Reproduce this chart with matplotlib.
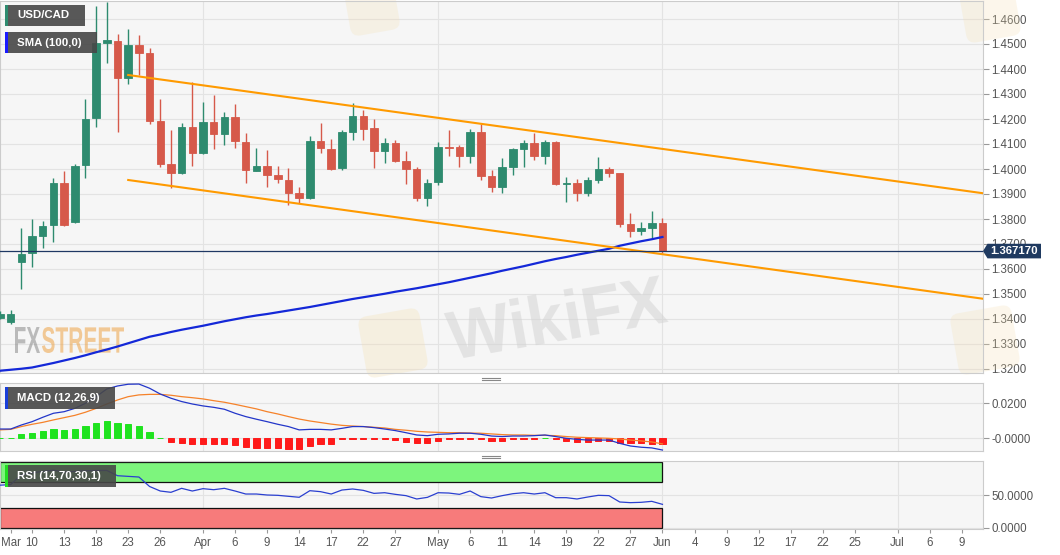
import numpy as np
import pandas as pd
import matplotlib
matplotlib.use("Agg")
import matplotlib.pyplot as plt
from matplotlib.patches import Rectangle, Polygon, PathPatch, FancyBboxPatch
from matplotlib.lines import Line2D
from matplotlib.textpath import TextPath
from matplotlib.font_manager import FontProperties
from matplotlib.transforms import Affine2D, blended_transform_factory

# USD/CAD daily candles, weekdays 5 Mar - 1 Jun 2020
dates = pd.bdate_range("2020-03-05", "2020-06-01")
opens = [1.3404, 1.3387, 1.3627, 1.3665, 1.3732, 1.3776, 1.3945, 1.3789, 1.4017, 1.4204,
         1.4505, 1.4513, 1.4364, 1.4495, 1.4465, 1.4192, 1.4020, 1.3985, 1.4167, 1.4065,
         1.4187, 1.4140, 1.4209, 1.4109, 1.3993, 1.4013, 1.3977, 1.3956, 1.3903, 1.3883,
         1.4113, 1.4080, 1.4003, 1.4149, 1.4212, 1.4163, 1.4073, 1.4103, 1.4033, 1.3999,
         1.3883, 1.3949, 1.4089, 1.4089, 1.4052, 1.4147, 1.3972, 1.3927, 1.4007, 1.4079,
         1.4103, 1.4052, 1.4109, 1.3939, 1.3943, 1.3903, 1.3956, 1.3999, 1.3983, 1.3779,
         1.3753, 1.3765, 1.3785]
highs = [1.3432, 1.3436, 1.3763, 1.3799, 1.3793, 1.3964, 1.3993, 1.4020, 1.4279, 1.4652,
         1.4668, 1.4540, 1.4559, 1.4535, 1.4483, 1.4279, 1.4156, 1.4183, 1.4349, 1.4269,
         1.4296, 1.4229, 1.4260, 1.4143, 1.4083, 1.4076, 1.4013, 1.4003, 1.3927, 1.4132,
         1.4183, 1.4119, 1.4155, 1.4265, 1.4236, 1.4199, 1.4123, 1.4116, 1.4073, 1.4007,
         1.3959, 1.4109, 1.4156, 1.4096, 1.4159, 1.4179, 1.3996, 1.4043, 1.4083, 1.4116,
         1.4143, 1.4116, 1.4113, 1.3969, 1.3960, 1.3967, 1.4049, 1.4007, 1.3985, 1.3823,
         1.3789, 1.3833, 1.3803]
lows = [1.3398, 1.3380, 1.3519, 1.3609, 1.3683, 1.3709, 1.3770, 1.3785, 1.3963, 1.4167,
        1.4423, 1.4149, 1.4339, 1.4376, 1.4180, 1.4009, 1.3923, 1.3980, 1.4012, 1.4060,
        1.4080, 1.4096, 1.4083, 1.3945, 1.3990, 1.3929, 1.3945, 1.3856, 1.3865, 1.3879,
        1.4063, 1.3995, 1.3998, 1.4116, 1.4116, 1.4003, 1.4023, 1.4029, 1.3940, 1.3873,
        1.3852, 1.3936, 1.4052, 1.4009, 1.4023, 1.3956, 1.3909, 1.3903, 1.3976, 1.4007,
        1.4036, 1.4020, 1.3935, 1.3869, 1.3873, 1.3892, 1.3943, 1.3969, 1.3769, 1.3729,
        1.3736, 1.3723, 1.3665]
closes = [1.3420, 1.3420, 1.3660, 1.3732, 1.3773, 1.3945, 1.3776, 1.4013, 1.4200, 1.4505,
          1.4515, 1.4364, 1.4495, 1.4465, 1.4193, 1.4020, 1.3983, 1.4167, 1.4065, 1.4187,
          1.4140, 1.4209, 1.4112, 1.3996, 1.4013, 1.3976, 1.3960, 1.3905, 1.3885, 1.4113,
          1.4083, 1.4000, 1.4149, 1.4212, 1.4160, 1.4073, 1.4103, 1.4033, 1.3999, 1.3883,
          1.3943, 1.4089, 1.4085, 1.4052, 1.4147, 1.3972, 1.3927, 1.4007, 1.4079, 1.4103,
          1.4052, 1.4109, 1.3939, 1.3943, 1.3903, 1.3956, 1.3999, 1.3985, 1.3779, 1.3753,
          1.3763, 1.3785, 1.36717]
sma100 = [1.3193, 1.3197, 1.3201, 1.3206, 1.3215, 1.3224, 1.3234, 1.3244, 1.3255, 1.3267,
          1.3278, 1.3290, 1.3303, 1.3316, 1.3329, 1.3338, 1.3348, 1.3357, 1.3365, 1.3373,
          1.3382, 1.3391, 1.3399, 1.3407, 1.3414, 1.3420, 1.3427, 1.3434, 1.3441, 1.3448,
          1.3456, 1.3464, 1.3472, 1.3480, 1.3487, 1.3494, 1.3501, 1.3509, 1.3516, 1.3523,
          1.3531, 1.3539, 1.3547, 1.3556, 1.3565, 1.3574, 1.3583, 1.3593, 1.3602, 1.3611,
          1.3621, 1.3631, 1.3640, 1.3648, 1.3657, 1.3665, 1.3673, 1.3681, 1.3693, 1.3702,
          1.3711, 1.3719, 1.3728]

# MACD (12,26,9)
macd = [0.0053, 0.0053, 0.0076, 0.0095, 0.0120, 0.0143, 0.0152, 0.0171, 0.0200, 0.0238,
        0.0282, 0.0299, 0.0309, 0.0310, 0.0286, 0.0253, 0.0229, 0.0210, 0.0196, 0.0185,
        0.0177, 0.0166, 0.0143, 0.0124, 0.0109, 0.0095, 0.0080, 0.0067, 0.0048, 0.0051,
        0.0051, 0.0048, 0.0057, 0.0067, 0.0067, 0.0061, 0.0053, 0.0044, 0.0032, 0.0019,
        0.0015, 0.0023, 0.0025, 0.0029, 0.0029, 0.0023, 0.0013, 0.0010, 0.0013, 0.0013,
        0.0015, 0.0019, 0.0010, 0.0000, -0.0006, -0.0010, -0.0010, -0.0010, -0.0029, -0.0044,
        -0.0051, -0.0055, -0.0067]
signal = [0.0048, 0.0051, 0.0067, 0.0080, 0.0091, 0.0105, 0.0118, 0.0131, 0.0149, 0.0171,
          0.0196, 0.0219, 0.0238, 0.0248, 0.0251, 0.0251, 0.0246, 0.0238, 0.0232, 0.0225,
          0.0215, 0.0206, 0.0194, 0.0181, 0.0168, 0.0152, 0.0139, 0.0124, 0.0110, 0.0099,
          0.0090, 0.0081, 0.0074, 0.0070, 0.0067, 0.0063, 0.0059, 0.0051, 0.0046, 0.0040,
          0.0036, 0.0034, 0.0032, 0.0032, 0.0030, 0.0029, 0.0025, 0.0021, 0.0019, 0.0019,
          0.0017, 0.0017, 0.0015, 0.0010, 0.0006, 0.0004, 0.0002, 0.0000, -0.0004, -0.0010,
          -0.0015, -0.0021, -0.0032]
hist = [0.0001, 0.0001, 0.0023, 0.0032, 0.0042, 0.0051, 0.0046, 0.0055, 0.0070, 0.0090,
        0.0099, 0.0090, 0.0080, 0.0070, 0.0038, 0.0001, -0.0019, -0.0025, -0.0034, -0.0034,
        -0.0034, -0.0034, -0.0038, -0.0048, -0.0053, -0.0053, -0.0057, -0.0059, -0.0059, -0.0044,
        -0.0034, -0.0034, -0.0005, -0.0004, -0.0004, -0.0005, -0.0005, -0.0007, -0.0021, -0.0029,
        -0.0029, -0.0017, -0.0006, -0.0006, -0.0004, -0.0005, -0.0017, -0.0015, -0.0005, -0.0002,
        -0.0002, 0.0001, -0.0005, -0.0014, -0.0019, -0.0019, -0.0017, -0.0017, -0.0025, -0.0025,
        -0.0029, -0.0030, -0.0034]

# RSI (14,70,30,1)
rsi = [65.0, 66.0, 81.0, 84.0, 86.0, 88.0, 85.0, 86.0, 87.0, 87.5,
       87.5, 79.5, 78.5, 77.5, 63.0, 56.1, 54.1, 60.2, 56.1, 59.7,
       58.1, 60.2, 56.1, 51.5, 51.5, 50.0, 49.5, 48.0, 46.5, 56.6,
       55.1, 51.5, 57.6, 59.2, 57.1, 52.5, 53.5, 51.0, 49.0, 43.9,
       46.4, 53.5, 53.0, 51.0, 56.1, 47.5, 45.4, 49.0, 52.0, 53.5,
       51.5, 53.5, 45.9, 45.9, 43.9, 46.9, 49.5, 49.0, 39.3, 38.3,
       38.8, 40.3, 35.7]

# channel drawn on the chart
channel_dates = ["2020-03-23", "2020-07-13"]
channel_upper = [1.4376, 1.3903]
channel_lower = [1.3956, 1.3481]

tick_dates = ["2020-03-06", "2020-03-10", "2020-03-13", "2020-03-18", "2020-03-23", "2020-03-26",
              "2020-04-01", "2020-04-06", "2020-04-09", "2020-04-14", "2020-04-17", "2020-04-22",
              "2020-04-27", "2020-05-01", "2020-05-06", "2020-05-11", "2020-05-14", "2020-05-19",
              "2020-05-22", "2020-05-27", "2020-06-01", "2020-06-04", "2020-06-09", "2020-06-12",
              "2020-06-17", "2020-06-22", "2020-06-25", "2020-07-01", "2020-07-06", "2020-07-09"]
tick_labels = ["Mar", "10", "13", "18", "23", "26", "Apr", "6", "9", "14", "17", "22", "27",
               "May", "6", "11", "14", "19", "22", "27", "Jun", "4", "9", "12", "17", "22", "25",
               "Jul", "6", "9"]
month_dates = ["2020-04-01", "2020-05-01", "2020-06-01", "2020-07-01"]

price_ticks = [1.32, 1.33, 1.34, 1.35, 1.36, 1.37, 1.38, 1.39, 1.40, 1.41, 1.42, 1.43, 1.44, 1.45, 1.46]
macd_ticks = [0.0, 0.02]
macd_tick_labels = ["-0.0000", "0.0200"]
rsi_ticks = [0, 50]
rsi_tick_labels = ["0.0000", "50.0000"]

W, H = 1060, 555
start = np.datetime64("2020-03-05")


def bpos(d):
    # trading-day position (weekends skipped)
    return np.busday_count(start, np.array(d, dtype="datetime64[D]"))


def frame(x0, y0, x1, y1):
    return [x0 / W, 1 - y1 / H, (x1 - x0) / W, (y1 - y0) / H]


GREEN = "#2e8b6f"
RED = "#d6594a"
GRID = "#e3e3e3"
TXT = "#555555"
FONT = "Liberation Sans"

x = bpos(dates.values.astype("datetime64[D]"))
o = np.array(opens); h = np.array(highs); l = np.array(lows); c = np.array(closes)
up = c >= o
cols = np.where(up, GREEN, RED)

fig = plt.figure(figsize=(W / 100, H / 100), dpi=100)
fig.patch.set_facecolor("white")

ax = fig.add_axes(frame(0, 1, 983, 373))
ax_m = fig.add_axes(frame(0, 383, 983, 451))
ax_r = fig.add_axes(frame(0, 461, 983, 529))

xlim = (0, 92)
for a in (ax, ax_m, ax_r):
    a.set_facecolor("#f6f6f6")
    a.set_xlim(*xlim)
    for s in a.spines.values():
        s.set_color("#cccccc")
        s.set_linewidth(0.8)
    a.yaxis.tick_right()
    a.tick_params(axis="y", length=4, width=0.8, color="#999999", pad=2,
                  labelsize=8.3, labelcolor=TXT)
    a.set_xticks(bpos(tick_dates))
    a.grid(axis="y", color=GRID, linewidth=0.8)
    a.set_axisbelow(True)
    for md in month_dates:
        a.axvline(bpos(md), color=GRID, linewidth=0.8, zorder=0.6)

ax.tick_params(axis="x", length=0, labelbottom=False)
ax_m.tick_params(axis="x", length=0, labelbottom=False)
ax_r.set_xticklabels(tick_labels)
ax_r.tick_params(axis="x", length=3, width=0.8, color="#999999", pad=3,
                 labelsize=8.3, labelcolor=TXT)
for lab in ax_r.get_xticklabels():
    lab.set_fontfamily(FONT)

# ---- price panel
ax.set_ylim(1.3184, 1.4672)
ax.set_yticks(price_ticks)
ax.set_yticklabels([f"{p:.4f}" for p in price_ticks], fontfamily=FONT)

ax.vlines(x, l, h, colors=cols, linewidth=1.0, zorder=3)
ax.bar(x, np.abs(c - o), bottom=np.minimum(o, c), width=0.7, color=cols,
       edgecolor=cols, linewidth=0.6, zorder=4)

ax.plot(x, sma100, color="#1428d8", linewidth=1.6, zorder=5)
cx = bpos(channel_dates)
ax.plot(cx, channel_upper, color="#ff9a00", linewidth=1.5, zorder=5)
ax.plot(cx, channel_lower, color="#ff9a00", linewidth=1.5, zorder=5)
ax.axhline(closes[-1], color="#1f3864", linewidth=0.9, zorder=5)

# last price tag on the axis (sits over the 1.3700 label, as in the source)
tr = blended_transform_factory(fig.transFigure, ax.transData)
dp = 7.3 / 2500
last = closes[-1]
tag = Polygon([(983 / W, last), (987.5 / W, last + dp), (1041 / W, last + dp),
               (1041 / W, last - dp), (987.5 / W, last - dp)], closed=True,
              transform=tr, facecolor="#1f3a60", edgecolor="none", clip_on=False, zorder=20)
ax.add_patch(tag)
ax.text(1014 / W, last, f"{last:.6f}", transform=tr, color="white", fontsize=8.2,
        fontweight="bold", fontfamily=FONT, ha="center", va="center", zorder=21, clip_on=False)

# ---- MACD panel
ax_m.set_ylim(-0.00726, 0.0316)
ax_m.set_yticks(macd_ticks)
ax_m.set_yticklabels(macd_tick_labels, fontfamily=FONT)
hc = np.where(np.array(hist) >= 0, "#1fe31f", "#ff1a1a")
ax_m.bar(x, hist, width=0.58, color=hc, edgecolor=hc, linewidth=0.7, zorder=3)
ax_m.plot(x, signal, color="#f5822a", linewidth=0.9, zorder=4)
ax_m.plot(x, macd, color="#2336c9", linewidth=0.9, zorder=5)

# ---- RSI panel
ax_r.set_ylim(-2.0, 102.0)
ax_r.set_yticks(rsi_ticks)
ax_r.set_yticklabels(rsi_tick_labels, fontfamily=FONT)
band_end = bpos("2020-06-01")
ax_r.add_patch(Rectangle((xlim[0], 70), band_end - xlim[0], 30, facecolor="#7df57d",
                         edgecolor="#111111", linewidth=0.9, zorder=2))
ax_r.add_patch(Rectangle((xlim[0], 0), band_end - xlim[0], 30, facecolor="#f77b7b",
                         edgecolor="#111111", linewidth=0.9, zorder=2))
ax_r.plot(x, rsi, color="#2a3fd0", linewidth=0.9, zorder=4)


# ---- watermarks (text outlines squeezed into a box, optionally tilted)
def squeeze_text(a, s, x0, y_base, width, height, color, alpha, angle=0, z=0.7):
    tp = TextPath((0, 0), s, size=1, prop=FontProperties(family=FONT, weight="bold"))
    ext = tp.get_extents()
    t = (Affine2D().translate(-ext.x0, -ext.y0)
         .scale(width / ext.width, height / ext.height)
         .rotate_deg(angle)
         .translate(x0, H - y_base)
         .scale(1 / W, 1 / H) + fig.transFigure)
    a.add_patch(PathPatch(tp, transform=t, facecolor=color, edgecolor="none",
                          alpha=alpha, zorder=z, clip_on=False))


def logo(a, cx_, cy_, size, angle, alpha):
    t = (Affine2D().rotate_deg(angle).translate(cx_, H - cy_).scale(1 / W, 1 / H)
         + fig.transFigure)
    a.add_patch(FancyBboxPatch((-size / 2, -size / 2), size, size,
                               boxstyle="round,pad=0,rounding_size=9", transform=t,
                               facecolor="#f5dfb0", edgecolor="none", alpha=alpha,
                               zorder=0.65, clip_on=False))


squeeze_text(ax, "FX", 15, 353, 25, 26, "#8a8a8a", 0.55)
squeeze_text(ax, "STREET", 42, 353, 82, 26, "#eeaa55", 0.6)
squeeze_text(ax, "WikiFX", 452, 360, 220, 50, "#d2d2d2", 0.5, angle=10)
logo(ax, 393, 343, 62, 10, 0.3)
logo(ax, 985, 340, 62, 10, 0.25)
logo(ax, 372, 8, 50, 10, 0.25)
logo(ax, 990, 12, 55, 10, 0.25)


# ---- label tags
def label_tag(x0, y0, x1, y1, accent, text):
    fig.add_artist(Rectangle((x0 / W, 1 - y1 / H), (x1 - x0) / W, (y1 - y0) / H,
                             transform=fig.transFigure, facecolor="#474747", alpha=0.9,
                             edgecolor="none", zorder=10))
    fig.add_artist(Rectangle((x0 / W, 1 - y1 / H), 2.5 / W, (y1 - y0) / H,
                             transform=fig.transFigure, facecolor=accent,
                             edgecolor="none", zorder=11))
    fig.text((x0 + 12) / W, 1 - (y0 + y1) / 2 / H, text, color="white", fontsize=8.2,
             fontweight="bold", fontfamily=FONT, va="center", ha="left", zorder=12)


label_tag(5, 5, 85, 26, GREEN, "USD/CAD")
label_tag(5, 32, 97, 53, "#1a1aff", "SMA (100,0)")
label_tag(5, 387, 115, 409, "#1a3fd9", "MACD (12,26,9)")
label_tag(5, 465, 116, 487, "#22dd22", "RSI (14,70,30,1)")

# panel resize handles
for yy in (377.5, 379.5, 456.0, 458.0):
    fig.add_artist(Line2D([482 / W, 500 / W], [1 - yy / H, 1 - yy / H],
                          transform=fig.transFigure, color="#888888", linewidth=0.8))

fig.savefig("out.png", dpi=100)
